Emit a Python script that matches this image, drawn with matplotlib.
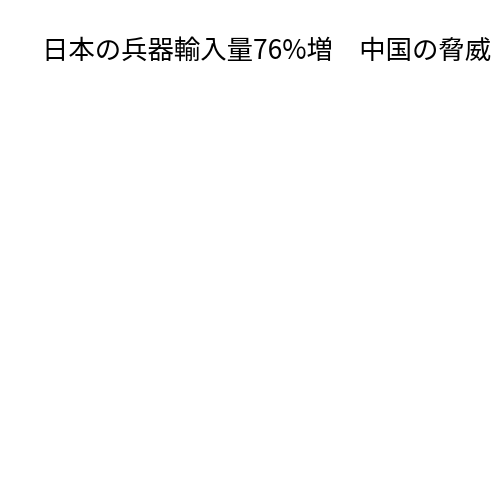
import matplotlib
matplotlib.use("Agg")
import matplotlib.pyplot as plt

plt.rcParams['font.family'] = ['Noto Sans CJK JP', 'DejaVu Sans']

title = "日本の兵器輸入量76%増\u3000中国の脅威"

fig = plt.figure(figsize=(5, 5), dpi=100)
fig.patch.set_facecolor("white")
# the chart area is empty, only the title is shown
fig.text(42 / 500, 1 - 51 / 500, title, fontsize=19, color="black",
         ha="left", va="center")
fig.savefig("out.png", dpi=100, facecolor="white")
